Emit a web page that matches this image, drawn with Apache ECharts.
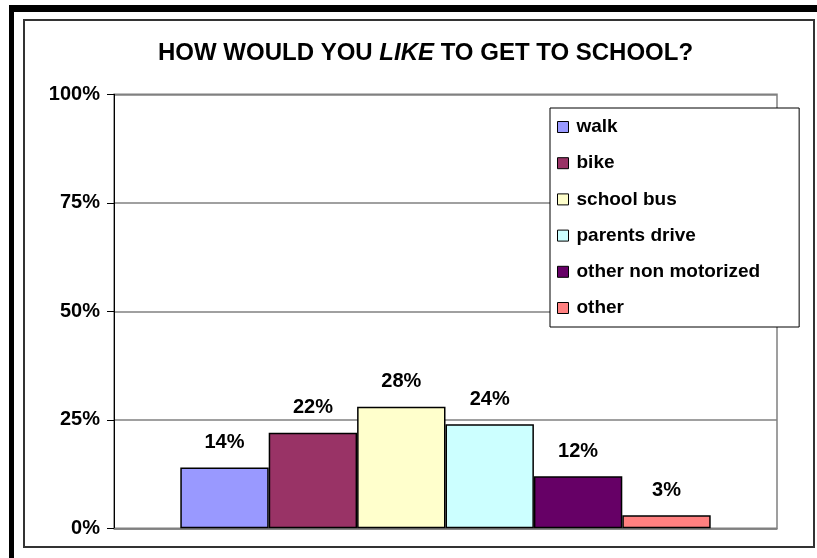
<!DOCTYPE html>
<html>
<head>
<meta charset="utf-8">
<script src="https://cdn.jsdelivr.net/npm/echarts@6/dist/echarts.min.js"></script>
<style>
  html, body { margin: 0; padding: 0; background: #fff; }
  #chart { width: 817px; height: 558px; }
</style>
</head>
<body>
<div id="chart"></div>
<script>
// Survey answers: preferred way of getting to school
const modes = ['walk', 'bike', 'school bus', 'parents drive', 'other non motorized', 'other'];
const shares = [14, 22, 28, 24, 12, 3];          // percent of students
const yTicks = [0, 25, 50, 75, 100];              // percent gridlines

const palette = ['#9999FF', '#993366', '#FFFFCC', '#CCFFFF', '#660066', '#FF8080'];
const FONT = "'Liberation Sans', Arial, sans-serif";

const chart = echarts.init(document.getElementById('chart'), null, { renderer: 'canvas' });

const series = modes.map((name, i) => ({
  name: name,
  type: 'bar',
  data: [shares[i]],
  barGap: '0%',
  barCategoryGap: '20%',
  itemStyle: { color: palette[i], borderColor: '#000', borderWidth: 1.5 },
  label: {
    show: true,
    position: 'top',
    distance: 15,
    formatter: (p) => p.value + '%',
    color: '#000',
    fontFamily: FONT,
    fontWeight: 'bold',
    fontSize: 20
  },
  emphasis: { disabled: true },
  animation: false
}));

chart.setOption({
  animation: false,
  backgroundColor: '#fff',
  title: {
    text: '{n|HOW WOULD YOU }{i|LIKE}{n| TO GET TO SCHOOL?}',
    left: 158,
    top: 41,
    padding: 0,
    textStyle: {
      rich: {
        n: { fontFamily: FONT, fontWeight: 'bold', fontSize: 24, color: '#000' },
        i: { fontFamily: FONT, fontWeight: 'bold', fontStyle: 'italic', fontSize: 24, color: '#000' }
      }
    }
  },
  legend: {
    orient: 'vertical',
    left: 550,
    top: 108,
    padding: [9.5, 39, 9.5, 7],
    itemGap: 17.2,
    itemWidth: 11,
    itemHeight: 11,
    icon: 'rect',
    backgroundColor: '#fff',
    borderColor: '#000',
    borderWidth: 1,
    selectedMode: false,
    itemStyle: { borderColor: '#000', borderWidth: 1 },
    textStyle: {
      fontFamily: FONT,
      fontWeight: 'bold',
      fontSize: 19,
      color: '#000',
      padding: [0, 0, 0, 3]
    },
    data: modes
  },
  grid: {
    left: 114,
    right: 40,
    top: 94.3,
    bottom: 29.7,
    show: true,
    borderColor: '#808080',
    borderWidth: 1.5,
    backgroundColor: 'transparent'
  },
  xAxis: {
    type: 'category',
    data: [''],
    axisLine: { show: true, lineStyle: { color: '#808080', width: 1.5 } },
    axisTick: { show: false },
    axisLabel: { show: false }
  },
  yAxis: {
    type: 'value',
    min: yTicks[0],
    max: yTicks[yTicks.length - 1],
    interval: yTicks[1] - yTicks[0],
    axisLine: { show: true, lineStyle: { color: '#000', width: 1 } },
    axisTick: { show: true, length: 7, lineStyle: { color: '#000', width: 1 } },
    axisLabel: {
      margin: 14,
      formatter: '{value}%',
      color: '#000',
      fontFamily: FONT,
      fontWeight: 'bold',
      fontSize: 20
    },
    splitLine: { show: true, lineStyle: { color: '#808080', width: 1.5 } }
  },
  graphic: [
    // outer chart frame
    {
      type: 'rect',
      z: -10,
      shape: { x: 24, y: 20, width: 790, height: 527 },
      style: { fill: '#fff', stroke: '#333', lineWidth: 2 }
    },
    // heavy black edge along top and left
    { type: 'rect', z: 10, shape: { x: 9, y: 5, width: 808, height: 7 }, style: { fill: '#000' } },
    { type: 'rect', z: 10, shape: { x: 9, y: 5, width: 5, height: 553 }, style: { fill: '#000' } }
  ],
  series: series
});
</script>
</body>
</html>
